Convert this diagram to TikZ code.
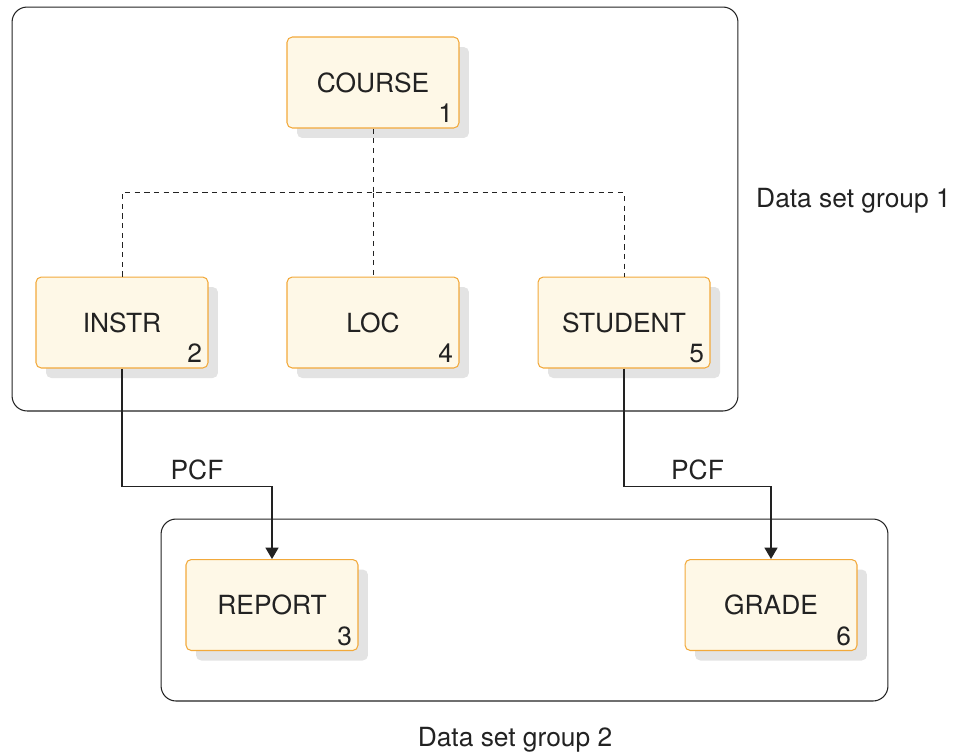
\documentclass[tikz,border=0pt]{standalone}
\usepackage{fontspec}
\setmainfont{TeX Gyre Heros}
\usepackage{xcolor}
\usepackage{tikz}
\usetikzlibrary{positioning, arrows.meta, shadows}
\definecolor{segedge}{HTML}{F2A93B}
\definecolor{segfill}{HTML}{FEF8E7}
\definecolor{segshade}{HTML}{E3E3E3}
\definecolor{inkgray}{HTML}{222222}

\begin{document}
\begin{tikzpicture}[
  x=0.02cm, y=-0.02cm,
  font=\fontsize{15}{18}\selectfont, text=inkgray,
  seg/.style={
    rectangle, rounded corners=3pt, draw=segedge, line width=0.6pt, fill=segfill,
    minimum width=3.44cm, minimum height=1.82cm, align=center,
    drop shadow={shadow xshift=0.2cm, shadow yshift=-0.2cm, fill=segshade, opacity=1}
  },
  num/.style={inner xsep=3.5pt, inner ysep=3pt, anchor=south east},
  group/.style={rectangle, rounded corners=0.3cm, draw=inkgray, line width=0.6pt},
  tie/.style={dashed, dash pattern=on 3pt off 2.5pt, line width=0.5pt, color=inkgray},
  arr/.style={-{Triangle[length=6.5pt, width=7.5pt]}, line width=0.6pt, color=inkgray},
]
\useasboundingbox (0,0) rectangle (955,755);

% Groups
\node[group, minimum width=14.52cm, minimum height=8.08cm] (g1) at (375,209) {};
\node[group, minimum width=14.54cm, minimum height=3.64cm] (g2) at (524.5,610) {};

% Group 1 segments
\node[seg] (crs) at (373,82.5) {COURSE};
\node[num] at (crs.south east) {1};
\node[seg, below=2.96cm of crs] (loc) {LOC};
\node[num] at (loc.south east) {4};
\node[seg, left=1.56cm of loc] (ins) {INSTR};
\node[num] at (ins.south east) {2};
\node[seg, right=1.56cm of loc] (stu) {STUDENT};
\node[num] at (stu.south east) {5};

% Group 2 segments
\node[seg] (rep) at (272,605) {REPORT};
\node[num] at (rep.south east) {3};
\node[seg] (grd) at (771,605) {GRADE};
\node[num] at (grd.south east) {6};

% Hierarchy
\draw[tie] (crs.south) -- ++(0,64) coordinate (hub);
\draw[tie] (ins.north) |- (hub) -| (stu.north);
\draw[tie] (hub) -- (loc.north);

% Pointers
\draw[arr] (ins.south) -- ++(0,118) -| node[pos=0.25, above] {PCF} (rep.north);
\draw[arr] (stu.south) -- ++(0,118) -| node[pos=0.25, above] {PCF} (grd.north);

% Labels
\node[anchor=west] (lbl1) at (750,201) {Data set group 1};
\node (lbl2) at (515,740) {Data set group 2};

\end{tikzpicture}
\end{document}
